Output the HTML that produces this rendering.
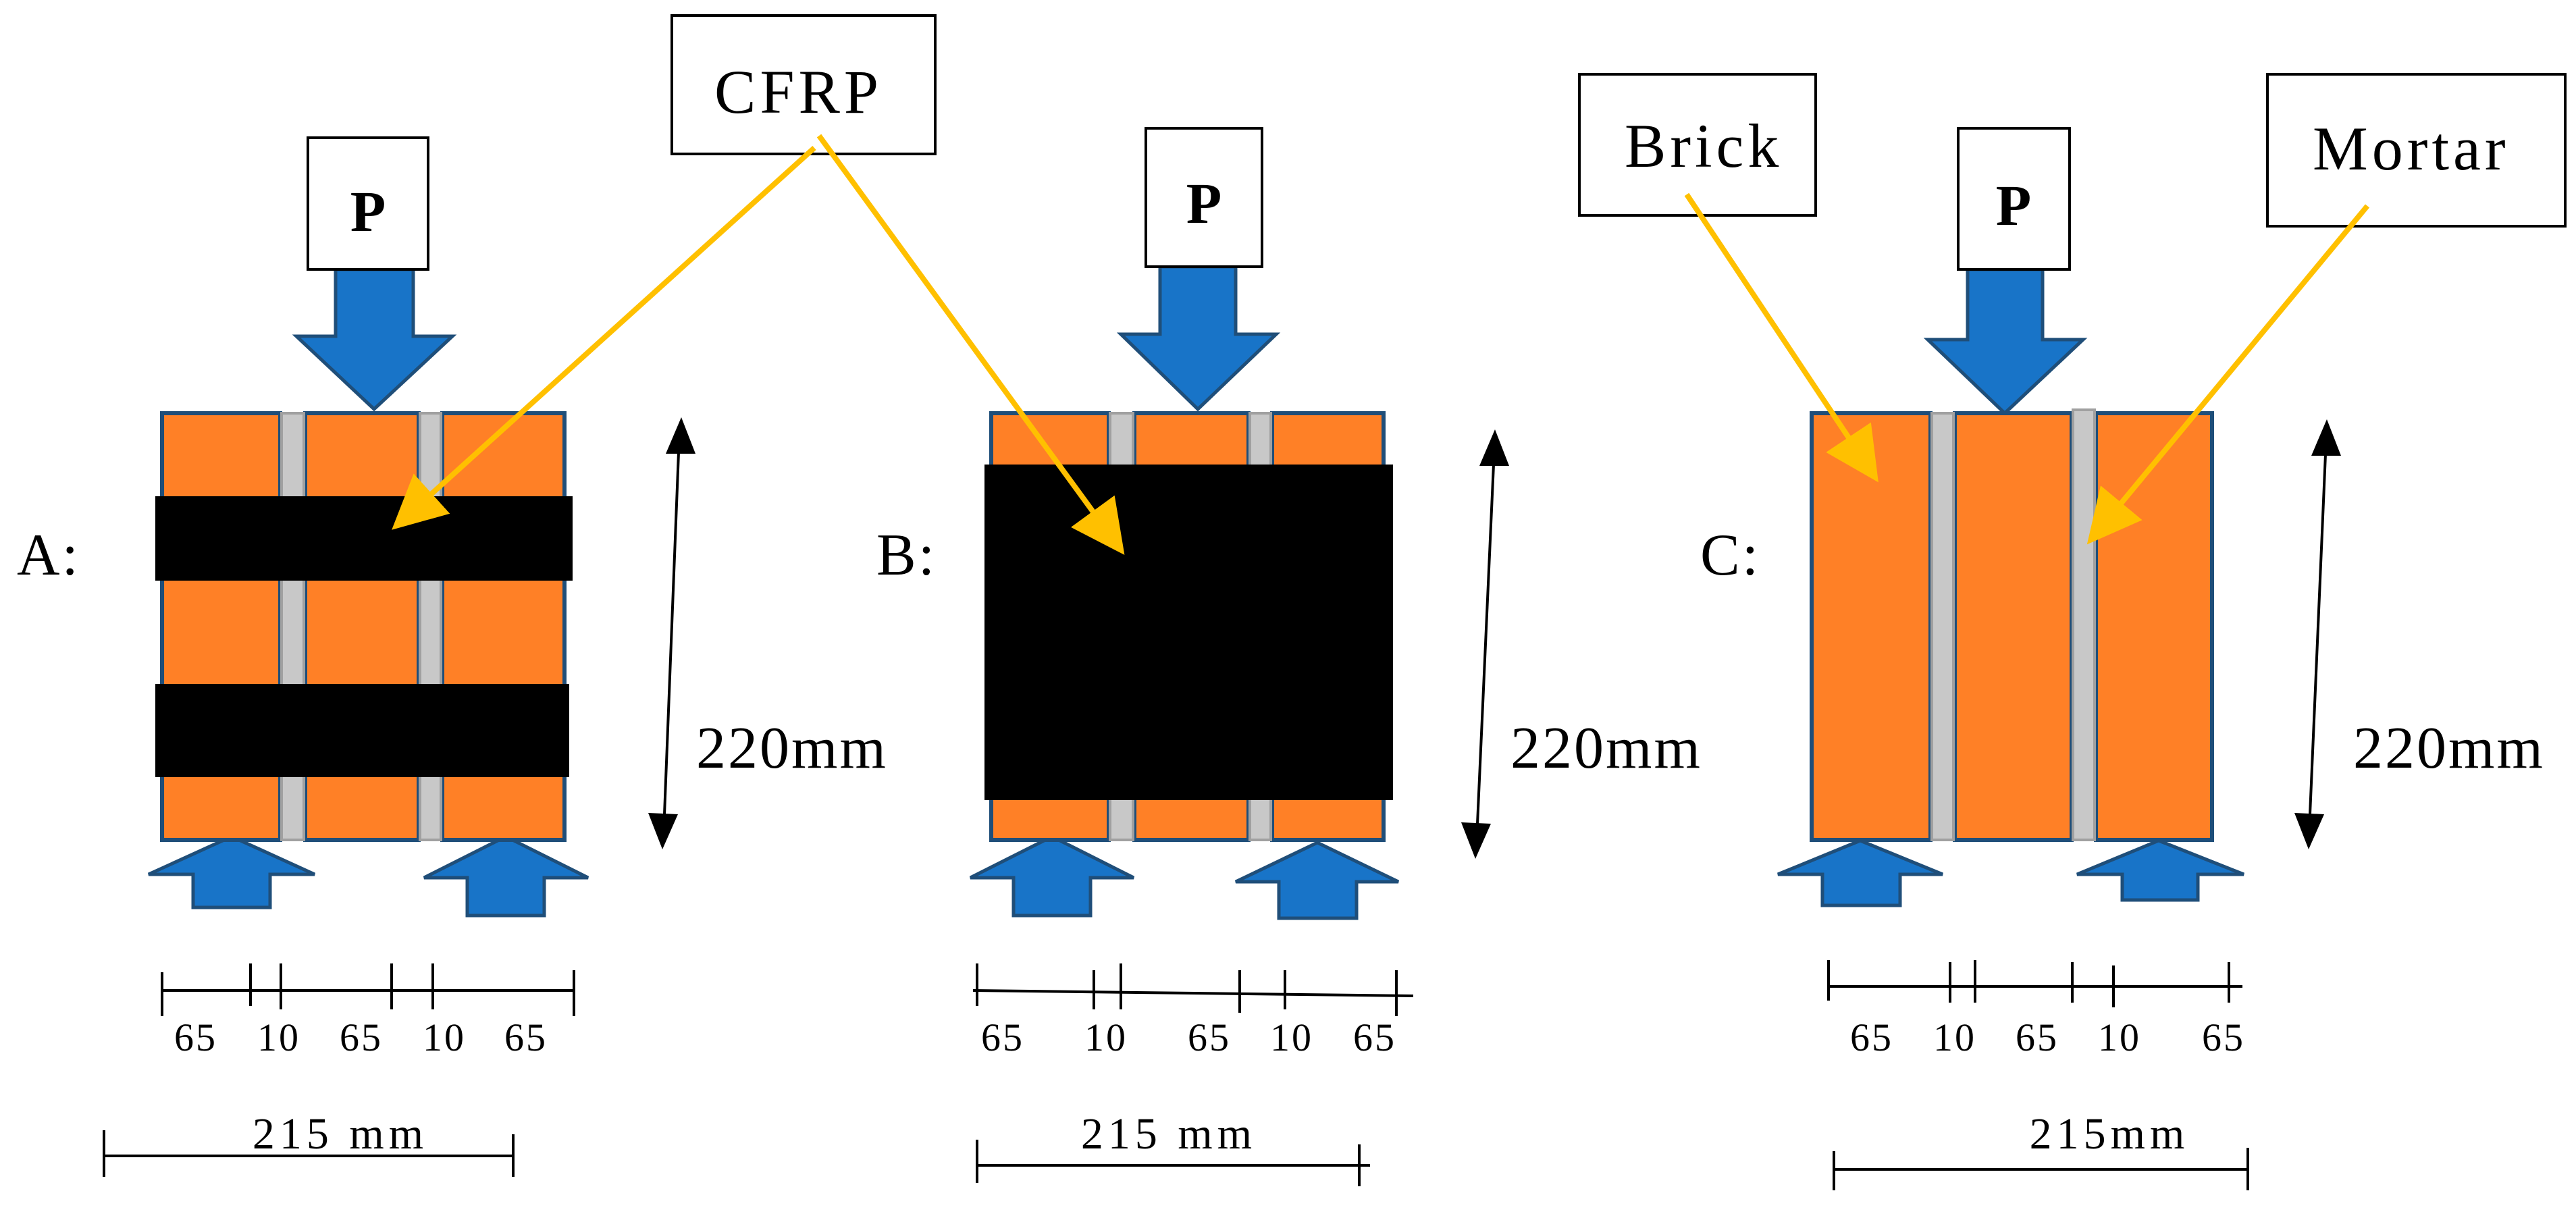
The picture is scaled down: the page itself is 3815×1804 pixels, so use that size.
<!DOCTYPE html>
<html><head><meta charset="utf-8"><style>html,body{margin:0;padding:0;background:#fff}svg{display:block}</style></head>
<body>
<svg width="3815" height="1804" viewBox="0 0 3815 1804" xmlns="http://www.w3.org/2000/svg" font-family="'Liberation Serif', serif">
<defs>
<marker id="ya" markerWidth="10" markerHeight="10" refX="8" refY="5" orient="auto" markerUnits="strokeWidth"><path d="M0,0 L10,5 L0,10 Z" fill="#FFC000"/></marker>
</defs>
<g fill="#1874C8" stroke="#1F4E79" stroke-width="5">
<path d="M497,399 H612 V498 H670 L554,606 L439,498 H497 Z"/>
<path d="M1718,395 H1830 V495 H1890 L1774,606 L1660,495 H1718 Z"/>
<path d="M2914,399 H3025 V503 H3085 L2969,612 L2855,503 H2914 Z"/>
<path d="M286,1344 V1295 H220 L343,1239 L466,1295 H400 V1344 Z"/>
<path d="M692,1356 V1300 H628 L749,1239 L871,1300 H806 V1356 Z"/>
<path d="M1501,1356 V1300 H1437 L1558,1239 L1679,1300 H1615 V1356 Z"/>
<path d="M1894,1360 V1306 H1830 L1951,1248 L2071,1306 H2009 V1360 Z"/>
<path d="M2699,1341 V1295 H2633 L2755,1245 L2877,1295 H2814 V1341 Z"/>
<path d="M3143,1333 V1295 H3076 L3197,1245 L3323,1295 H3255 V1333 Z"/>
</g>
<g stroke="#1F4E79" stroke-width="6" fill="#FF8026">
<rect x="240" y="612" width="175" height="632"/><rect x="452" y="612" width="168" height="632"/><rect x="655" y="612" width="181" height="632"/>
<rect x="1468" y="612" width="174" height="632"/><rect x="1680" y="612" width="169" height="632"/><rect x="1884" y="612" width="165" height="632"/>
<rect x="2683" y="612" width="176" height="632"/><rect x="2895" y="612" width="173" height="632"/><rect x="3104" y="612" width="172" height="632"/>
</g>
<g fill="#C8C8C8" stroke="#A0A0A0" stroke-width="4">
<rect x="417" y="612" width="33" height="632"/><rect x="622" y="612" width="31" height="632"/>
<rect x="1644" y="612" width="34" height="632"/><rect x="1851" y="612" width="31" height="632"/>
<rect x="2861" y="612" width="32" height="632"/><rect x="3070" y="607" width="32" height="637"/>
</g>
<rect x="230" y="735" width="618" height="125" fill="#000"/>
<rect x="230" y="1013" width="613" height="138" fill="#000"/>
<rect x="1458" y="688" width="605" height="497" fill="#000"/>
<g fill="#fff" stroke="#000" stroke-width="4">
<rect x="456" y="204" width="178" height="195"/>
<rect x="1697" y="190" width="172" height="205"/>
<rect x="2900" y="190" width="165" height="209"/>
<rect x="995" y="23" width="390" height="205"/>
<rect x="2339" y="110" width="350" height="209"/>
<rect x="3358" y="110" width="441" height="225"/>
</g>
<g font-size="86" font-weight="bold" text-anchor="middle">
<text x="545" y="342">P</text><text x="1783" y="330">P</text><text x="2982" y="333">P</text>
</g>
<g font-size="92" letter-spacing="6">
<text x="1058" y="167">CFRP</text>
<text x="2406" y="247">Brick</text>
<text x="3425" y="251">Mortar</text>
</g>
<g font-size="88" letter-spacing="3">
<text x="25" y="851">A:</text><text x="1298" y="851">B:</text><text x="2518" y="851">C:</text>
<text x="1031" y="1137">220mm</text><text x="2237" y="1137">220mm</text><text x="3485" y="1137">220mm</text>
</g>
<g stroke="#FFC000" stroke-width="8" fill="none" marker-end="url(#ya)">
<line x1="1206" y1="219" x2="592" y2="774"/>
<line x1="1213" y1="201" x2="1656" y2="809"/>
<line x1="2498" y1="288" x2="2773" y2="701"/>
<line x1="3506" y1="305" x2="3101" y2="794"/>
</g>
<g stroke="#000" stroke-width="4">
<line x1="1005" y1="670" x2="984" y2="1206"/><path d="M1009,618 L986,672 L1030,672 Z" fill="#000" stroke="none"/><path d="M981,1258 L960,1204 L1004,1206 Z" fill="#000" stroke="none"/>
<line x1="2212" y1="688" x2="2188" y2="1220"/><path d="M2214,636 L2191,690 L2235,690 Z" fill="#000" stroke="none"/><path d="M2185,1272 L2164,1218 L2208,1220 Z" fill="#000" stroke="none"/>
<line x1="3444" y1="673" x2="3421" y2="1206"/><path d="M3446,621 L3423,675 L3467,675 Z" fill="#000" stroke="none"/><path d="M3419,1258 L3398,1204 L3442,1206 Z" fill="#000" stroke="none"/>
</g>
<g stroke="#000" stroke-width="4">
<line x1="240" y1="1467" x2="850" y2="1467"/>
<line x1="240" y1="1440" x2="240" y2="1505"/><line x1="371" y1="1427" x2="371" y2="1490"/><line x1="416" y1="1427" x2="416" y2="1495"/><line x1="580" y1="1427" x2="580" y2="1495"/><line x1="641" y1="1427" x2="641" y2="1495"/><line x1="850" y1="1437" x2="850" y2="1505"/>
<line x1="154" y1="1712" x2="760" y2="1712"/><line x1="154" y1="1674" x2="154" y2="1743"/><line x1="760" y1="1680" x2="760" y2="1743"/>
<line x1="1441" y1="1467" x2="2093" y2="1475"/>
<line x1="1447" y1="1427" x2="1447" y2="1490"/><line x1="1620" y1="1437" x2="1620" y2="1495"/><line x1="1660" y1="1427" x2="1660" y2="1495"/><line x1="1836" y1="1437" x2="1836" y2="1500"/><line x1="1903" y1="1437" x2="1903" y2="1495"/><line x1="2068" y1="1437" x2="2068" y2="1505"/>
<line x1="1447" y1="1726" x2="2029" y2="1726"/><line x1="1447" y1="1688" x2="1447" y2="1752"/><line x1="2013" y1="1695" x2="2013" y2="1757"/>
<line x1="2708" y1="1461" x2="3321" y2="1461"/>
<line x1="2708" y1="1422" x2="2708" y2="1482"/><line x1="2888" y1="1425" x2="2888" y2="1485"/><line x1="2925" y1="1422" x2="2925" y2="1485"/><line x1="3069" y1="1425" x2="3069" y2="1485"/><line x1="3130" y1="1430" x2="3130" y2="1492"/><line x1="3301" y1="1425" x2="3301" y2="1485"/>
<line x1="2716" y1="1732" x2="3329" y2="1732"/><line x1="2716" y1="1705" x2="2716" y2="1763"/><line x1="3329" y1="1700" x2="3329" y2="1763"/>
</g>
<g font-size="58" text-anchor="middle" letter-spacing="3">
<text x="290" y="1556">65</text><text x="413" y="1556">10</text><text x="535" y="1556">65</text><text x="658" y="1556">10</text><text x="779" y="1556">65</text>
<text x="1485" y="1556">65</text><text x="1638" y="1556">10</text><text x="1791" y="1556">65</text><text x="1913" y="1556">10</text><text x="2036" y="1556">65</text>
<text x="2772" y="1556">65</text><text x="2895" y="1556">10</text><text x="3017" y="1556">65</text><text x="3139" y="1556">10</text><text x="3293" y="1556">65</text>
</g>
<g font-size="66" text-anchor="middle" letter-spacing="7">
<text x="504" y="1701">215 mm</text><text x="1731" y="1701">215 mm</text><text x="3124" y="1701">215mm</text>
</g>
</svg>
</body></html>
